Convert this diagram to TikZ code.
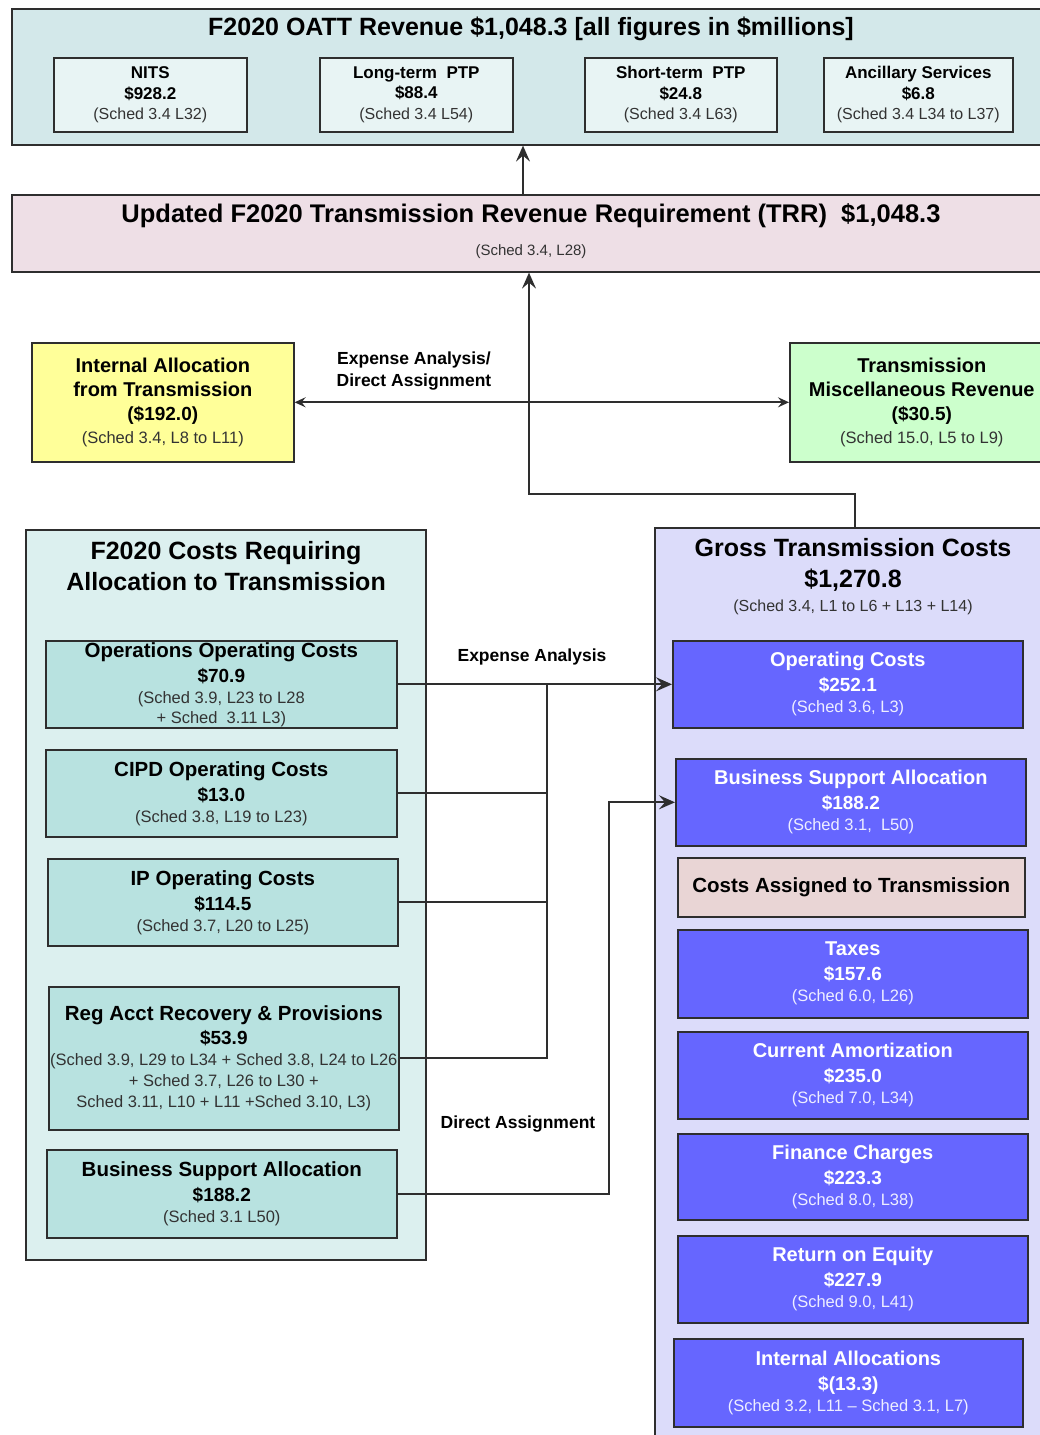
\documentclass[tikz,border=0pt]{standalone}
\usepackage{fontspec}
\setmainfont{Liberation Sans}
\usetikzlibrary{arrows.meta}
\definecolor{cTop}{HTML}{D3E8EA}
\definecolor{cTopIn}{HTML}{E8F4F4}
\definecolor{cTRR}{HTML}{EEDFE6}
\definecolor{cYel}{HTML}{FFFF99}
\definecolor{cGrn}{HTML}{CCFFCC}
\definecolor{cLeft}{HTML}{DCF0EF}
\definecolor{cLeftIn}{HTML}{B8E2E0}
\definecolor{cRight}{HTML}{DCDCFA}
\definecolor{cBlue}{HTML}{6666FF}
\definecolor{cPink}{HTML}{E9D5D5}
\definecolor{cBord}{HTML}{2E2E2E}
\definecolor{cSched}{HTML}{333333}
\definecolor{cWSched}{HTML}{EEEEFF}
\newcommand\Hd[2]{{\fontsize{#1}{21}\selectfont\bfseries #2}}
\newcommand\Sc[1]{{\color{cSched}#1}}
\newcommand\Sw[1]{{\color{cWSched}#1}}
\begin{document}
\begin{tikzpicture}[x=1pt,y=-1pt,
  box/.style={draw=cBord, line width=1.6pt, anchor=north west, inner sep=0pt, align=center, font=\fontsize{16.5}{21}\selectfont},
  sz/.style 2 args={minimum width=#1pt, minimum height=#2pt},
  topin/.style={box, fill=cTopIn, font=\fontsize{16}{20.5}\selectfont},
  tealbox/.style={box, fill=cLeftIn},
  bluebox/.style={box, fill=cBlue, text=white},
  ln/.style={draw=cBord, line width=1.8pt},
  arr/.style={ln, -{Stealth[length=16pt,width=14pt,inset=6pt]}},
  darr/.style={ln, {Stealth[length=11pt,width=10pt,inset=4pt]}-{Stealth[length=11pt,width=10pt,inset=4pt]}},
  lbl/.style={font=\fontsize{17.5}{22}\selectfont\bfseries, align=center, inner sep=0pt}
]
\useasboundingbox (0,0) rectangle (1040,1435);
\clip (0,0) rectangle (1040,1435);

% ---- top OATT box
\node[box, fill=cTop, sz={1050}{136}] (oatt) at (11,8) {};
\node[font=\fontsize{25}{25}\selectfont\bfseries, inner sep=0pt] (oattT) at (531,29) {F2020 OATT Revenue \$1,048.3 [all figures in \$millions]};
\node[topin, sz={193}{74}] (nits) at (53,57) {\Hd{17}{NITS}\\ \Hd{17}{\$928.2}\\ \Sc{(Sched 3.4 L32)}};
\node[topin, sz={193}{74}] (ltp) at (319,57) {\Hd{17}{Long-term\ \ PTP}\\ \Hd{17}{\$88.4}\\ \Sc{(Sched 3.4 L54)}};
\node[topin, sz={192}{74}] (stp) at (584,57) {\Hd{17}{Short-term\ \ PTP}\\ \Hd{17}{\$24.8}\\ \Sc{(Sched 3.4 L63)}};
\node[topin, sz={189}{74}] (anc) at (823,57) {\Hd{17}{Ancillary Services}\\ \Hd{17}{\$6.8}\\ \Sc{(Sched 3.4 L34 to L37)}};

% ---- TRR box
\node[box, fill=cTRR, sz={1050}{77}] (trr) at (11,194) {};
\node[font=\fontsize{25.5}{26}\selectfont\bfseries, inner sep=0pt] (trrT) at (531,216) {Updated F2020 Transmission Revenue Requirement (TRR)\ \ \$1,048.3};
\node[font=\fontsize{15}{16}\selectfont, text=cSched, inner sep=0pt] (trrS) at (531,252) {(Sched 3.4, L28)};
\coordinate (ta) at (523,0);
\draw[arr] (trr.north -| ta) -- (oatt.south -| ta);

% ---- side boxes
\node[box, fill=cYel, sz={262}{119}, font=\fontsize{16.5}{24}\selectfont] (ia) at (31,342) {\Hd{20}{Internal Allocation}\\ \Hd{20}{from Transmission}\\ \Hd{19}{(\$192.0)}\\[-1pt] \Sc{(Sched 3.4, L8 to L11)}};
\node[box, fill=cGrn, sz={264}{119}, font=\fontsize{16.5}{24}\selectfont] (tm) at (789,342) {\Hd{20}{Transmission}\\ \Hd{20}{Miscellaneous Revenue}\\ \Hd{19}{(\$30.5)}\\[-1pt] \Sc{(Sched 15.0, L5 to L9)}};
\draw[darr] (ia.east) -- (tm.west);
\node[lbl] (lblEA) at (414,371) {Expense Analysis/\\Direct Assignment};

% ---- left container
\node[box, fill=cLeft, sz={400}{730}] (left) at (25,529) {};
\node[font=\fontsize{25}{31}\selectfont\bfseries, align=center, inner sep=0pt] (leftT) at (226,566) {F2020 Costs Requiring\\Allocation to Transmission};
\node[tealbox, sz={351}{87}] (ops) at (45,640) {\Hd{20.5}{Operations Operating Costs}\\[4pt] \Hd{19}{\$70.9}\\ \Sc{(Sched 3.9, L23 to L28}\\[-1pt] \Sc{+ Sched\ \ 3.11 L3)}};
\node[tealbox, sz={351}{87}] (cipd) at (45,749) {\Hd{20.5}{CIPD\ Operating Costs}\\[4pt] \Hd{19}{\$13.0}\\ \Sc{(Sched 3.8, L19 to L23)}};
\node[tealbox, sz={350}{87}] (ip) at (47,858) {\Hd{20.5}{IP Operating Costs}\\[4pt] \Hd{19}{\$114.5}\\ \Sc{(Sched 3.7, L20 to L25)}};
\node[tealbox, sz={350}{143}] (reg) at (48,986) {\Hd{20.5}{Reg Acct Recovery \& Provisions}\\[3pt] \Hd{19}{\$53.9}\\ \Sc{(Sched 3.9, L29 to L34 + Sched 3.8, L24 to L26}\\ \Sc{+ Sched 3.7, L26 to L30 +}\\ \Sc{Sched 3.11, L10 + L11 +Sched 3.10, L3)}};
\node[tealbox, sz={350}{88}] (bsal) at (46,1149) {\Hd{20.5}{Business Support Allocation}\\[4pt] \Hd{19}{\$188.2}\\ \Sc{(Sched 3.1 L50)}};

% ---- right container
\node[box, fill=cRight, sz={400}{960}] (gross) at (654,527) {};
\node[align=center, inner sep=0pt, font=\fontsize{16}{28}\selectfont] (grossT) at (853,577) {\Hd{25}{Gross Transmission Costs}\\[3pt] \Hd{25}{\$1,270.8}\\[-4pt] \Sc{(Sched 3.4, L1 to L6 + L13 + L14)}};
\node[bluebox, sz={350}{87}] (opc) at (672,640) {\Hd{20}{Operating Costs}\\[4pt] \Hd{19}{\$252.1}\\ \Sw{(Sched 3.6, L3)}};
\node[bluebox, sz={350}{87}] (bsar) at (675,758) {\Hd{20}{Business Support Allocation}\\[4pt] \Hd{19}{\$188.2}\\ \Sw{(Sched 3.1,\ \ L50)}};
\node[box, fill=cPink, sz={347}{59}] (cat) at (677,857) {\Hd{20.5}{Costs Assigned to Transmission}};
\node[bluebox, sz={350}{88}] (tax) at (677,929) {\Hd{20}{Taxes}\\[4pt] \Hd{19}{\$157.6}\\ \Sw{(Sched 6.0, L26)}};
\node[bluebox, sz={350}{87}] (amort) at (677,1031) {\Hd{20}{Current Amortization}\\[4pt] \Hd{19}{\$235.0}\\ \Sw{(Sched 7.0, L34)}};
\node[bluebox, sz={350}{86}] (fin) at (677,1133) {\Hd{20}{Finance\ Charges}\\[4pt] \Hd{19}{\$223.3}\\ \Sw{(Sched 8.0, L38)}};
\node[bluebox, sz={350}{87}] (roe) at (677,1235) {\Hd{20}{Return on Equity}\\[4pt] \Hd{19}{\$227.9}\\ \Sw{(Sched 9.0, L41)}};
\node[bluebox, sz={349}{88}] (ial) at (673,1338) {\Hd{20}{Internal Allocations}\\[4pt] \Hd{19}{\$(13.3)}\\ \Sw{(Sched 3.2, L11 -- Sched 3.1, L7)}};

% ---- gross -> TRR
\coordinate (gb) at (529,494);
\draw[arr] (gross.north) |- (gb) -- (trr.south -| gb);

% ---- expense analysis connectors
\coordinate (jx) at (547,0);
\draw[arr] (ops.east) -- (opc.west);
\draw[ln] (cipd.east) -- (cipd.east -| jx);
\draw[ln] (ip.east) -- (ip.east -| jx);
\draw[ln] (reg.east) -| (jx |- ops.east);
\node[lbl] (lblE) at (532,657) {Expense Analysis};

% ---- direct assignment connector
\coordinate (dx) at (609,0);
\draw[arr] (bsal.east) -| (dx |- bsar.west) -- (bsar.west);
\node[lbl] (lblD) at (518,1124) {Direct Assignment};
\end{tikzpicture}
\end{document}
